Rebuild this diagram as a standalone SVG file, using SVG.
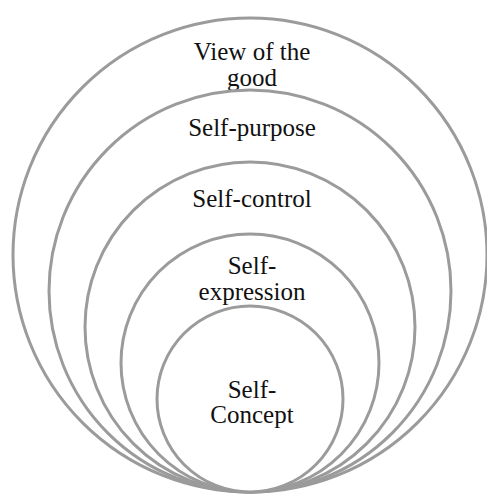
<svg xmlns="http://www.w3.org/2000/svg" width="487" height="494" viewBox="0 0 487 494">
<style>
.ring{fill:#ffffff;stroke:#9b9b9b;stroke-width:3}
.lbl{font-family:"Liberation Serif","Times New Roman",serif;font-size:25px;fill:#111111;text-anchor:middle}
</style>
<rect width="487" height="494" fill="#ffffff"/>
<g id="n1"><circle class="ring" cx="250" cy="255" r="237"/><text class="lbl" x="252" y="60">View of the</text><text class="lbl" x="252" y="86">good</text></g>
<g id="n2"><circle class="ring" cx="250" cy="291" r="201"/><text class="lbl" x="252" y="136">Self-purpose</text></g>
<g id="n3"><circle class="ring" cx="250" cy="327" r="165"/><text class="lbl" x="252" y="207">Self-control</text></g>
<g id="n4"><circle class="ring" cx="250" cy="363" r="129"/><text class="lbl" x="252" y="274">Self-</text><text class="lbl" x="252" y="300">expression</text></g>
<g id="n5"><circle class="ring" cx="250" cy="399" r="93"/><text class="lbl" x="252" y="398">Self-</text><text class="lbl" x="252" y="423">Concept</text></g>
<g id="connectors"></g>
</svg>
